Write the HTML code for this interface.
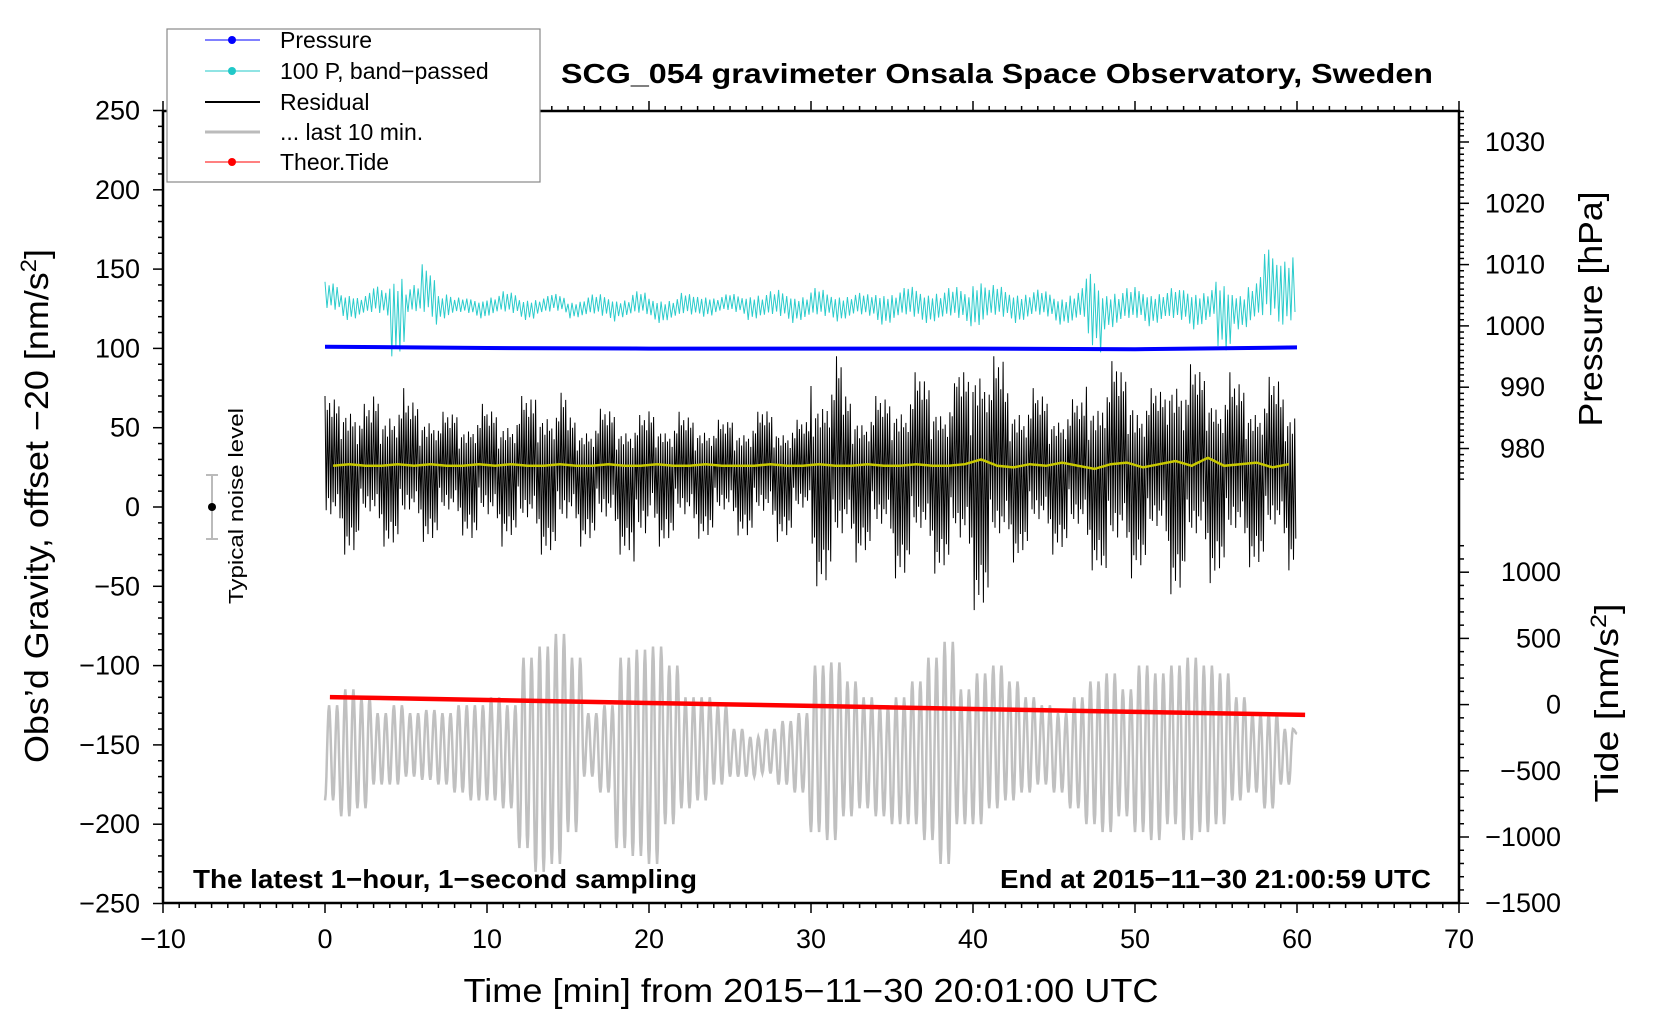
<!DOCTYPE html>
<html><head><meta charset="utf-8"><style>
body{margin:0;background:#fff}
svg{display:block;font-family:"Liberation Sans",sans-serif}
</style></head><body>
<svg id="chart" width="1660" height="1020" viewBox="0 0 1660 1020" xmlns="http://www.w3.org/2000/svg">
<rect x="0" y="0" width="1660" height="1020" fill="#fff"/>
<g id="ticks"></g>
<g id="series"></g>
<rect x="163" y="111" width="1296" height="792" fill="none" stroke="#000" stroke-width="2.5"/>
<g id="labels" font-size="27"></g>
<text x="561" y="83" font-size="28" font-weight="bold" textLength="872" lengthAdjust="spacingAndGlyphs">SCG_054 gravimeter Onsala Space Observatory, Sweden</text>
<text x="811" y="1002" font-size="33" text-anchor="middle" textLength="695" lengthAdjust="spacingAndGlyphs">Time [min] from 2015−11−30 20:01:00 UTC</text>
<text transform="translate(48,506) rotate(-90)" font-size="33" text-anchor="middle" textLength="514" lengthAdjust="spacingAndGlyphs">Obs’d Gravity, offset −20 [nm/s<tspan baseline-shift="super" font-size="22">2</tspan>]</text>
<text transform="translate(1602,309) rotate(-90)" font-size="33" text-anchor="middle" textLength="235" lengthAdjust="spacingAndGlyphs">Pressure [hPa]</text>
<text transform="translate(1618,703) rotate(-90)" font-size="33" text-anchor="middle" textLength="199" lengthAdjust="spacingAndGlyphs">Tide [nm/s<tspan baseline-shift="super" font-size="22">2</tspan>]</text>
<text x="193" y="888" font-size="26" font-weight="bold" textLength="504" lengthAdjust="spacingAndGlyphs">The latest 1−hour, 1−second sampling</text>
<text x="1431" y="888" font-size="26" font-weight="bold" text-anchor="end" textLength="431" lengthAdjust="spacingAndGlyphs">End at 2015−11−30 21:00:59 UTC</text>
<g>
<line x1="212" y1="475" x2="212" y2="539" stroke="#bbb" stroke-width="2"/>
<line x1="206" y1="475" x2="218" y2="475" stroke="#bbb" stroke-width="2"/>
<line x1="206" y1="539" x2="218" y2="539" stroke="#bbb" stroke-width="2"/>
<circle cx="212" cy="507" r="4" fill="#000"/>
<text transform="translate(243,506) rotate(-90)" font-size="20" text-anchor="middle" textLength="196" lengthAdjust="spacingAndGlyphs">Typical noise level</text>
</g>
<g>
<rect x="167" y="29" width="373" height="153" fill="#fff" stroke="#888" stroke-width="1.2"/>
<g><line x1="205" y1="40" x2="260" y2="40" stroke="#00f" stroke-width="1"/><circle cx="232" cy="40" r="4" fill="#00f"/><text x="280" y="48" font-size="23">Pressure</text></g>
<g><line x1="205" y1="71" x2="260" y2="71" stroke="#20c8c8" stroke-width="1"/><circle cx="232" cy="71" r="4" fill="#20c8c8"/><text x="280" y="79" font-size="23">100 P, band−passed</text></g>
<g><line x1="205" y1="102" x2="260" y2="102" stroke="#000" stroke-width="2"/><text x="280" y="110" font-size="23">Residual</text></g>
<g><line x1="205" y1="132" x2="260" y2="132" stroke="#bbb" stroke-width="3"/><text x="280" y="140" font-size="23">... last 10 min.</text></g>
<g><line x1="205" y1="162" x2="260" y2="162" stroke="#f00" stroke-width="1"/><circle cx="232" cy="162" r="4" fill="#f00"/><text x="280" y="170" font-size="23">Theor.Tide</text></g>
</g>
</svg>
<script>
const xTicks=[-10,0,10,20,30,40,50,60,70];
const yTicks=[250,200,150,100,50,0,-50,-100,-150,-200,-250];
const pTicks=[1030,1020,1010,1000,990,980];
const tTicks=[1000,500,0,-500,-1000,-1500];
const pressMin=[0,10,20,30,40,50,60];
const pressVal=[996.6,996.4,996.3,996.3,996.3,996.2,996.5];
const tideMin=[0.3,10,20,30,40,50,60.5];
const tideVal=[57,35,12,-10,-33,-55,-78];
const resHi=[70,80,65,72,75,68,70,60,62,65,62,65,70,75,72,58,60,62,60,58,62,60,58,60,55,58,60,62,58,55,85,95,72,68,70,80,85,82,78,88,115,95,80,75,72,70,68,85,92,88,80,75,105,90,88,85,80,78,82,75];
const resLo=[-25,-30,-22,-25,-25,-20,-22,-20,-18,-22,-25,-20,-28,-30,-30,-25,-22,-28,-30,-45,-25,-22,-25,-20,-20,-18,-20,-22,-20,-18,-50,-45,-35,-30,-35,-45,-40,-42,-40,-50,-65,-45,-35,-30,-30,-28,-35,-40,-50,-45,-40,-38,-55,-45,-48,-42,-40,-38,-35,-40];
const yellow=[26,27,26,26,27,26,27,26,26,27,26,27,26,26,27,26,26,27,26,26,27,26,26,27,26,26,26,27,26,26,27,26,26,27,26,26,27,26,26,27,30,26,25,27,26,28,26,24,27,28,25,27,29,26,31,26,27,28,25,27];
const cyHi=[142,138,135,140,156,140,155,138,132,133,135,136,134,133,135,132,134,135,133,136,134,133,135,136,134,135,137,136,138,136,138,137,136,135,139,138,140,139,138,140,148,140,139,138,137,136,138,150,140,138,140,139,138,141,140,142,140,145,165,168];
const cyLo=[120,118,119,118,95,118,115,118,120,119,120,119,118,120,121,119,118,117,119,118,116,117,118,120,121,120,118,117,116,117,116,117,118,117,115,116,115,116,115,114,113,115,116,117,116,115,114,90,112,113,114,115,113,112,114,88,112,113,110,115];
const grPeak=[-125,-115,-120,-130,-125,-130,-128,-130,-125,-125,-120,-125,-95,-88,-80,-95,-130,-125,-95,-90,-88,-100,-120,-120,-125,-140,-145,-140,-135,-130,-100,-98,-110,-120,-125,-120,-110,-95,-85,-115,-105,-100,-110,-120,-125,-130,-120,-110,-105,-115,-100,-105,-100,-95,-100,-105,-120,-130,-130,-140];
const grTrough=[-185,-195,-190,-175,-175,-170,-172,-175,-180,-185,-185,-190,-215,-230,-225,-205,-170,-180,-215,-220,-225,-200,-190,-185,-175,-170,-170,-168,-175,-180,-205,-210,-195,-190,-195,-200,-200,-210,-225,-200,-200,-190,-185,-180,-175,-180,-190,-200,-205,-195,-205,-210,-200,-210,-205,-200,-185,-180,-190,-175];

const NS='http://www.w3.org/2000/svg';
const X=t=>325+t*16.2;
const GY=v=>507-v*1.586;
const PY=h=>142+(1030-h)*6.13;
const TY=v=>704.6-v*0.1324;
function mk(tag,attrs,parent){const e=document.createElementNS(NS,tag);for(const k in attrs)e.setAttribute(k,attrs[k]);parent.appendChild(e);return e;}
const tk=document.getElementById('ticks'),lb=document.getElementById('labels'),sr=document.getElementById('series');
function tick(x1,y1,x2,y2){const l=mk('line',{x1,y1,x2,y2,stroke:'#000','stroke-width':1.5},tk);

}
for(let m=-10;m<=70;m++){const x=X(m),len=(m%10===0)?10:5;tick(x,903,x,903+len);tick(x,111,x,111-len);}
xTicks.forEach(v=>{const t=mk('text',{x:X(v),y:948,'text-anchor':'middle'},lb);t.textContent=(v<0?'−':'')+Math.abs(v);

});
for(let v=-250;v<=250;v+=10){const y=GY(v),len=(v%50===0)?10:5;tick(163,y,163-len,y);}
yTicks.forEach(v=>{const t=mk('text',{x:140,y:GY(v)+9,'text-anchor':'end'},lb);t.textContent=(v<0?'−':'')+Math.abs(v);

});
for(let h=975;h<=1035;h++){const y=PY(h);if(y<111||y>903)continue;const len=(h%10===0)?10:5;tick(1459,y,1459+len,y);}
pTicks.forEach(v=>{const t=mk('text',{x:1545,y:PY(v)+9,'text-anchor':'end'},lb);t.textContent=v;

});
for(let v=-1500;v<=1200;v+=100){const y=TY(v);const len=(v%500===0)?10:5;tick(1459,y,1459+len,y);}
tTicks.forEach(v=>{const t=mk('text',{x:1561,y:TY(v)+9,'text-anchor':'end'},lb);t.textContent=(v<0?'−':'')+Math.abs(v);

});

(function(){let pts=[];for(let i=0;i<60;i++){const ext=[[i,grTrough[i]],[i+0.25,grPeak[i]],[i+0.5,grTrough[i]],[i+0.75,grPeak[i]]];ext.forEach(e=>pts.push(e));}
pts.push([60,-143]);let d='';
for(let k=0;k<pts.length-1;k++){const [t0,v0]=pts[k],[t1,v1]=pts[k+1];for(let s=0;s<6;s++){const f=s/6,w=(1-Math.cos(Math.PI*f))/2;const x=X(t0+(t1-t0)*f),y=GY(v0+(v1-v0)*w);d+=(d?'L':'M')+x.toFixed(1)+' '+y.toFixed(1);}}
d+='L'+X(60).toFixed(1)+' '+GY(-143).toFixed(1);
const p=mk('path',{d,fill:'none',stroke:'#c0c0c0','stroke-width':2.5},sr);

})();

(function(){let d='';tideMin.forEach((t,i)=>{d+=(i?'L':'M')+X(t).toFixed(1)+' '+TY(tideVal[i]).toFixed(1);});
const p=mk('path',{d,fill:'none',stroke:'#f00','stroke-width':4.5},sr);

})();

const cpat=[1,.5,.8,.35,.9,.6,.7,.45,.55,.75,.4];
(function(){let d='',n=0;for(let i=0;i<60;i++){const c=(cyHi[i]+cyLo[i])/2;for(let k=0;k<8;k++){const t=i+k/8;const f=cpat[n%cpat.length];n++;const v=(k%2===0)?c+(cyHi[i]-c)*f:c-(c-cyLo[i])*f;d+=(d?'L':'M')+X(t).toFixed(1)+' '+GY(v).toFixed(1);}}
const p=mk('path',{d,fill:'none',stroke:'#2ccccc','stroke-width':1},sr);

})();

(function(){let d='';pressMin.forEach((t,i)=>{d+=(i?'L':'M')+X(t).toFixed(1)+' '+PY(pressVal[i]).toFixed(1);});
const p=mk('path',{d,fill:'none',stroke:'#00f','stroke-width':4},sr);

})();

const rpat=[1,.55,.8,.4,.9,.6,.7,.45,.95,.5,.75,.35,.85,.65,.3,.6,.5];
(function(){let d='',n=0;for(let i=0;i<60;i++){const c=yellow[i];for(let k=0;k<14;k++){const t=i+k/14;const f=rpat[n%rpat.length];n++;const v=(k%2===0)?c+(resHi[i]-c)*f:c-(c-resLo[i])*f;d+=(d?'L':'M')+X(t).toFixed(1)+' '+GY(v).toFixed(1);}}
const p=mk('path',{d,fill:'none',stroke:'#000','stroke-width':1},sr);

})();

(function(){let d='';yellow.forEach((v,i)=>{d+=(i?'L':'M')+X(i+0.5).toFixed(1)+' '+GY(v).toFixed(1);});
const p=mk('path',{d,fill:'none',stroke:'#c8c800','stroke-width':2.5},sr);

})();
</script>
</body></html>
